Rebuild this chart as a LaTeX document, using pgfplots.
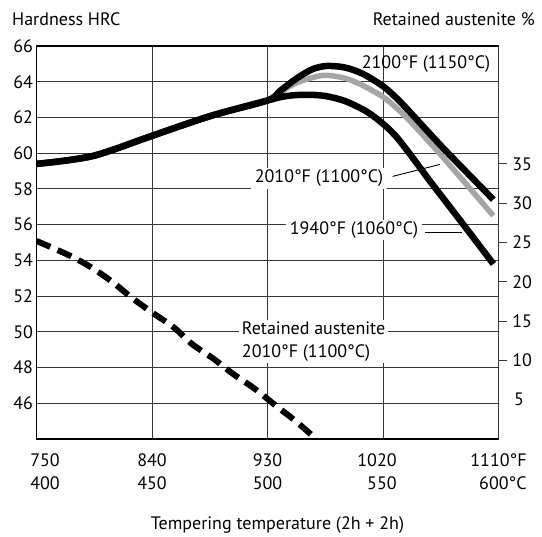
\documentclass[border=0pt]{standalone}
\usepackage{fontspec}
\setmainfont{PT Sans}
\usepackage{pgfplots}
\pgfplotsset{compat=1.18}

\definecolor{curvegray}{RGB}{165,165,165}
\definecolor{gridc}{RGB}{55,55,55}

\begin{document}
\begin{tikzpicture}[x=1bp, y=1bp, font=\fontsize{18bp}{22.7bp}\selectfont]
\useasboundingbox (0,0) rectangle (542,537);

% hardness, left axis
\begin{axis}[
    at={(36.5bp,98bp)}, anchor=south west,
    scale only axis, width=462bp, height=393bp,
    xmin=750, xmax=1110, ymin=44, ymax=66,
    xtick={750,840,930,1020,1110},
    xticklabels={{\rule{17bp}{0pt}750\\400},{840\\450},{930\\500},{1020\rule{12bp}{0pt}\\550\rule{12bp}{0pt}},{1110°F\\600°C}},
    xticklabel style={align=right, yshift=-11bp},
    ytick={46,48,...,66},
    every tick label/.append style={font=\fontsize{18bp}{22.7bp}\selectfont},
    /pgf/number format/assume math mode=true,
    grid=major,
    major grid style={gridc, line width=0.9bp},
    major tick length=0pt,
    axis line style={black, line width=1.3bp},
]
\addplot[curvegray, line width=5.5bp, smooth, line cap=butt] coordinates {
    (930,62.95)(940,63.4)(953,63.95)(973,64.35)(990,64.2)(1004,63.8)
    (1020,63.15)(1031,62.5)(1041,61.8)(1057,60.55)(1070,59.5)(1106,56.5)
};
\addplot[black, line width=6.5bp, smooth, line cap=butt] coordinates {
    (750,59.4)(770,59.56)(792,59.81)(810,60.2)(840,60.97)(886,62.09)(930,62.95)
    (940,63.5)(953,64.2)(965,64.7)(976,64.88)(990,64.8)(1004,64.45)
    (1020,63.75)(1031,63.05)(1041,62.3)(1057,61.05)(1070,60.05)(1106,57.4)
};
\addplot[black, line width=6.5bp, smooth, line cap=butt] coordinates {
    (750,59.4)(770,59.56)(792,59.81)(810,60.2)(840,60.97)(886,62.09)(930,62.95)
    (945,63.2)(960,63.27)(975,63.2)(991,62.9)(1010,62.2)(1030,60.95)
    (1057,58.4)(1080,56.25)(1106,53.8)
};

% labels of the curves
\node[inner sep=0pt] at (axis cs:1053.5,64.96) {2100°F (1150°C)};
\node[fill=white, inner xsep=4bp, inner ysep=2bp] at (axis cs:970.1,58.59) {2010°F (1100°C)};
\draw[black, line width=0.9bp] (axis cs:1027.5,58.7) -- (axis cs:1064.3,59.37);
\node[fill=white, inner xsep=4bp, inner ysep=2bp] at (axis cs:997.4,55.7) {1940°F (1060°C)};
\draw[black, line width=0.9bp] (axis cs:1052.7,55.55) -- (axis cs:1081.5,55.55);
\node[fill=white, anchor=west, align=left, inner xsep=3bp, inner ysep=2bp]
    at (axis cs:907.6,49.47) {Retained austenite\\2010°F (1100°C)};
\end{axis}

% retained austenite, right axis
\begin{axis}[
    at={(36.5bp,98bp)}, anchor=south west,
    scale only axis, width=462bp, height=393bp,
    xmin=750, xmax=1110, ymin=0, ymax=50,
    axis x line=none, axis y line*=right,
    ytick={10,15,...,35},
    extra y ticks={5},
    extra y tick style={major tick length=0pt, grid=none},
    every tick label/.append style={font=\fontsize{18bp}{22.7bp}\selectfont},
    /pgf/number format/assume math mode=true,
    tick align=outside, major tick length=8bp,
    tick style={gridc, line width=1bp},
    yticklabel style={text width=22bp, align=right},
    axis line style={gridc, line width=1.3bp},
]
\addplot[black, line width=6bp, smooth, line cap=butt, dash pattern=on 15bp off 8bp] coordinates {
    (750,25.2)(775,23.4)(792,21.9)(809,20.0)(824,18.0)(840,16.1)(857,14.2)
    (871,12.1)(888,10.2)(903,8.3)(920,6.4)(936,4.3)(951,2.4)(968,0)
};
\end{axis}

\node[anchor=base west, inner sep=0pt] at (12,511) {Hardness HRC};
\node[anchor=base east, inner sep=0pt] at (535,511) {Retained austenite \%};
\node[anchor=base, inner sep=0pt] at (277.5,7.7) {Tempering temperature (2h + 2h)};
\end{tikzpicture}
\end{document}
